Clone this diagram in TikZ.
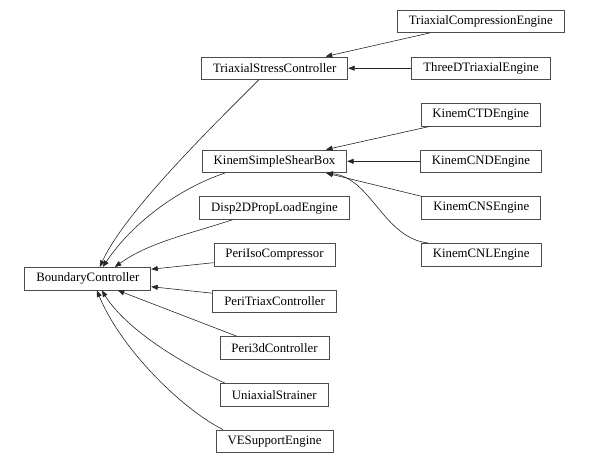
\documentclass[tikz,border=0pt]{standalone}
\usepackage{fontspec}
\setmainfont{Liberation Serif}
\usetikzlibrary{arrows.meta}

\tikzset{
  cls/.style={draw=black!70, line width=0.7pt, rectangle, inner xsep=11.5pt, inner ysep=0pt,
    minimum height=22.7pt, font=\fontsize{12.8}{15}\selectfont},
  inh/.style={draw=black!85, line width=0.6pt, -{Triangle[length=6.5pt,width=5pt]}}
}

\begin{document}
\begin{tikzpicture}[x=1pt,y=1pt,yscale=-1,xscale=1]
\useasboundingbox (0,0) rectangle (589,463);

% Text Node
\node[cls] (bc) at (87.8,278.7) {BoundaryController};
% Text Node
\node[cls] (tsc) at (274.7,68.2) {TriaxialStressController};
% Text Node
\node[cls] (kssb) at (274.5,161.3) {KinemSimpleShearBox};
% Text Node
\node[cls] (disp) at (274.5,208) {Disp2DPropLoadEngine};
% Text Node
\node[cls] (periiso) at (274.5,254.7) {PeriIsoCompressor};
% Text Node
\node[cls] (peritriax) at (274.5,301.2) {PeriTriaxController};
% Text Node
\node[cls] (peri3d) at (274.5,348) {Peri3dController};
% Text Node
\node[cls] (uni) at (274.2,394.7) {UniaxialStrainer};
% Text Node
\node[cls] (ves) at (274.5,441.3) {VESupportEngine};
% Text Node
\node[cls] (tce) at (480.8,21.2) {TriaxialCompressionEngine};
% Text Node
\node[cls] (tdte) at (481,68.2) {ThreeDTriaxialEngine};
% Text Node
\node[cls] (kctd) at (480.8,114.7) {KinemCTDEngine};
% Text Node
\node[cls] (kcnd) at (481,161.3) {KinemCNDEngine};
% Text Node
\node[cls] (kcns) at (481.3,208) {KinemCNSEngine};
% Text Node
\node[cls] (kcnl) at (481.2,254.7) {KinemCNLEngine};

%Straight Lines
\draw[inh] ([xshift=-51pt]tce.south) -- ([xshift=51pt]tsc.north);
\draw[inh] (tdte.west) -- (tsc.east);
\draw[inh] ([xshift=-51pt]kctd.south) -- ([xshift=51.5pt]kssb.north);
\draw[inh] (kcnd.west) -- (kssb.east);
\draw[inh] (kcns.north west) -- ([xshift=51.5pt]kssb.south);
\draw[inh] ([yshift=8pt]periiso.west) -- ([yshift=-9.5pt]bc.east);
\draw[inh] ([yshift=-8pt]peritriax.west) -- ([yshift=8pt]bc.east);
\draw[inh] ([xshift=-37.5pt]peri3d.north) -- ([xshift=30pt]bc.south);

%Curve Lines
\draw[inh] ([xshift=-16pt]tsc.south) .. controls +(-45,45) and +(25,-55) .. ([xshift=12pt]bc.north);
\draw[inh] ([xshift=-49.5pt]kssb.south) .. controls +(-45,15) and +(30,-45) .. ([xshift=15pt]bc.north);
\draw[inh] ([xshift=-42pt]disp.south) .. controls +(-45,15) and +(35,-25) .. ([xshift=27pt]bc.north);
\draw[inh] ([xshift=-49.5pt]uni.north) .. controls +(-40,-18) and +(25,40) .. ([xshift=14pt]bc.south);
\draw[inh] ([xshift=-51.5pt]ves.north) .. controls +(-40,-20) and +(25,60) .. ([xshift=9pt]bc.south);
\draw[inh] ([xshift=-53pt]kcnl.north) .. controls +(-45,-5) and +(45,5) .. ([xshift=52pt]kssb.south);

\end{tikzpicture}
\end{document}
